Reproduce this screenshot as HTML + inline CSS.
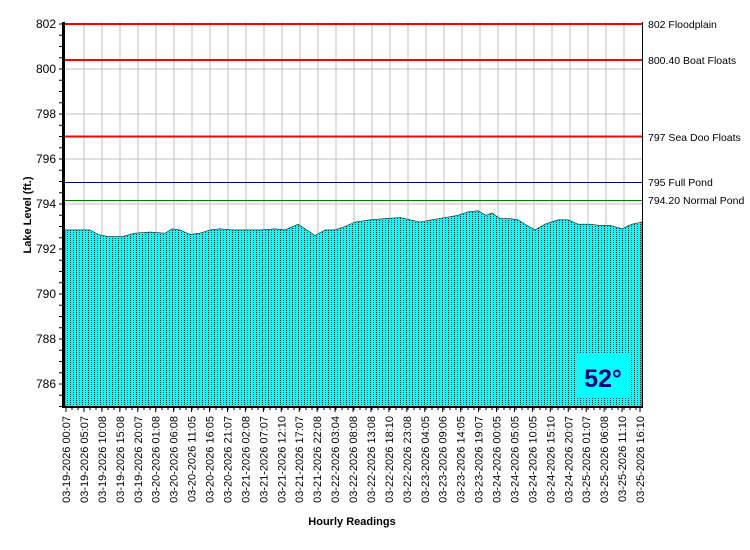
<!DOCTYPE html>
<html><head><style>body{margin:0;background:#fff}svg{display:block;font-family:"Liberation Sans",Arial,sans-serif}</style></head><body>
<svg width="750" height="550" xmlns="http://www.w3.org/2000/svg">
<defs><pattern id="p" width="3" height="2" patternUnits="userSpaceOnUse"><rect width="3" height="2" fill="#00ffff"/><rect x="1" y="0" width="0.9" height="1" fill="#000"/></pattern></defs>
<g stroke="#c0c0c0" stroke-width="1" id="grid"></g>
<polygon id="area" fill="url(#p)" stroke="#003030" stroke-width="0.6"/>
<g id="lines">
<line x1="65" x2="643" y1="24" y2="24" stroke="#f00" stroke-width="2"/>
<line x1="65" x2="643" y1="60" y2="60" stroke="#f00" stroke-width="2"/>
<line x1="65" x2="643" y1="136.5" y2="136.5" stroke="#f00" stroke-width="2"/>
<line x1="65" x2="643" y1="182.5" y2="182.5" stroke="#000080" stroke-width="1"/>
<line x1="65" x2="643" y1="200.5" y2="200.5" stroke="#008000" stroke-width="1"/>
</g>
<rect x="577" y="354" width="52" height="44" fill="#00ffff"/>
<text x="603" y="387" text-anchor="middle" font-size="25" font-weight="bold" fill="#000080">52°</text>
<line x1="63.5" y1="22" x2="63.5" y2="408" stroke="#000" stroke-width="3"/>
<line x1="62" y1="407" x2="643" y2="407" stroke="#000" stroke-width="2"/>
<line x1="642.5" y1="22" x2="642.5" y2="408" stroke="#000" stroke-width="1"/>
<g font-size="10.5" fill="#000">
<text x="648" y="28">802 Floodplain</text>
<text x="648" y="64">800.40 Boat Floats</text>
<text x="648" y="141">797 Sea Doo Floats</text>
<text x="648" y="186">795 Full Pond</text>
<text x="648" y="204">794.20 Normal Pond</text>
</g>
<g id="yl" font-size="12" text-anchor="end"></g>
<g id="xl" font-size="11"></g>
<text transform="translate(31,215) rotate(-90)" text-anchor="middle" font-size="11" font-weight="bold">Lake Level (ft.)</text>
<text x="352" y="525" text-anchor="middle" font-size="11" font-weight="bold">Hourly Readings</text>
</svg>
<script>
var ns="http://www.w3.org/2000/svg";
function el(t,a,p,txt){var e=document.createElementNS(ns,t);for(var k in a)e.setAttribute(k,a[k]);if(txt)e.textContent=txt;document.getElementById(p)?document.getElementById(p).appendChild(e):p.appendChild(e);return e}
function Y(v){return 24+(802-v)*22.5}
for(var x=66+18;x<642;x+=18)el('line',{x1:x,x2:x,y1:22,y2:407},'grid');
for(var v=786;v<=802;v+=2){el('line',{x1:65,x2:642,y1:Y(v),y2:Y(v)},'grid');el('text',{x:56,y:Y(v)+4},'yl',String(v));}
var svg=document.querySelector('svg');
for(var v=785;v<=802;v+=0.5){el('line',{x1:59,x2:62,y1:Y(v),y2:Y(v),stroke:'#000'},svg);}
var labs=["03-19-2026 00:07","03-19-2026 05:07","03-19-2026 10:08","03-19-2026 15:08","03-19-2026 20:07","03-20-2026 01:08","03-20-2026 06:08","03-20-2026 11:05","03-20-2026 16:05","03-20-2026 21:07","03-21-2026 02:08","03-21-2026 07:07","03-21-2026 12:10","03-21-2026 17:07","03-21-2026 22:08","03-22-2026 03:04","03-22-2026 08:08","03-22-2026 13:08","03-22-2026 18:10","03-22-2026 23:08","03-23-2026 04:05","03-23-2026 09:06","03-23-2026 14:05","03-23-2026 19:07","03-24-2026 00:05","03-24-2026 05:05","03-24-2026 10:05","03-24-2026 15:10","03-24-2026 20:07","03-25-2026 01:07","03-25-2026 06:08","03-25-2026 11:10","03-25-2026 16:10"];
var n=labs.length;
for(var i=0;i<n;i++){var x=66+i*(640-66)/(n-1);el('line',{x1:x,x2:x,y1:407,y2:412,stroke:'#000'},svg);el('text',{transform:'translate('+(x+4)+',416) rotate(-90)','text-anchor':'end'},'xl',labs[i]);}
for(var x=66;x<642;x+=6)el('line',{x1:x,x2:x,y1:407,y2:410,stroke:'#000'},svg);
var d=[[65,792.85],[90,792.85],[98,792.65],[108,792.55],[122,792.55],[135,792.7],[150,792.75],[165,792.7],[172,792.9],[180,792.85],[190,792.65],[200,792.7],[210,792.85],[220,792.9],[232,792.85],[245,792.85],[262,792.85],[275,792.9],[285,792.85],[298,793.1],[305,792.9],[315,792.6],[325,792.85],[335,792.85],[345,793.0],[355,793.2],[370,793.3],[385,793.35],[400,793.4],[410,793.3],[420,793.2],[432,793.3],[445,793.4],[458,793.5],[468,793.65],[478,793.7],[486,793.5],[492,793.6],[500,793.35],[510,793.35],[518,793.3],[525,793.1],[535,792.85],[545,793.1],[558,793.3],[568,793.3],[578,793.1],[590,793.1],[600,793.05],[610,793.05],[622,792.9],[632,793.1],[642,793.2]];
var pts="65,407 ";d.forEach(function(p){pts+=p[0]+","+Y(p[1]).toFixed(1)+" "});pts+="642,407";
document.getElementById('area').setAttribute('points',pts);
</script>
</body></html>
